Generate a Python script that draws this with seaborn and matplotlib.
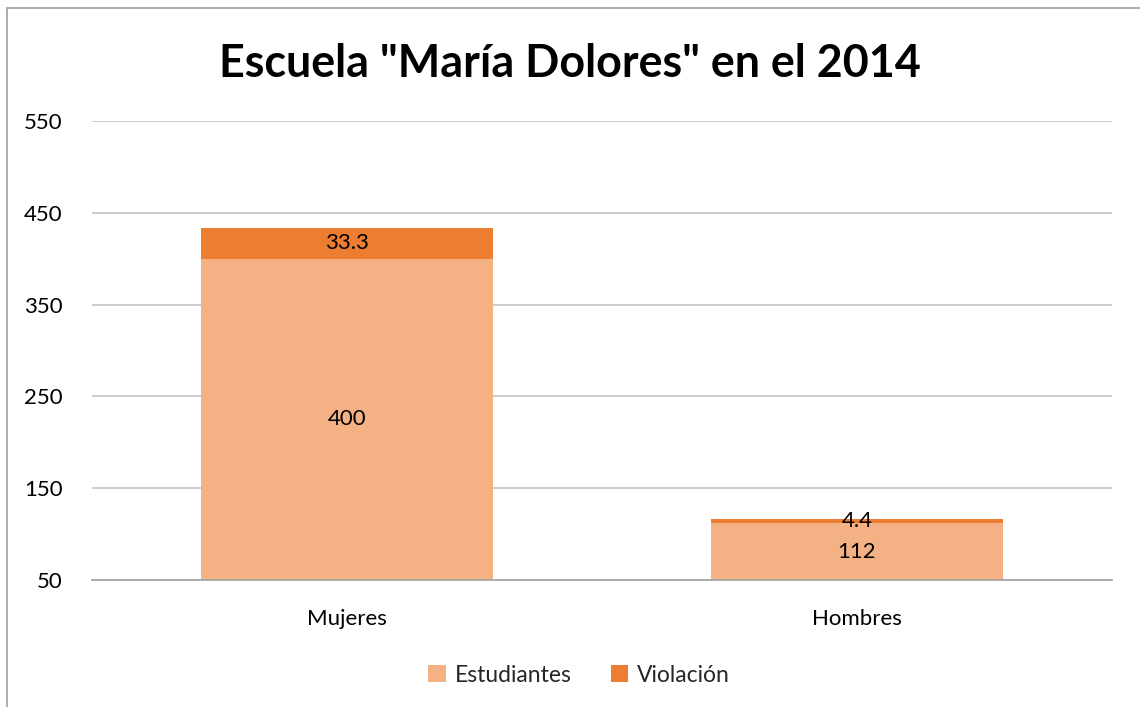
import matplotlib
matplotlib.use("Agg")
import matplotlib.pyplot as plt
import seaborn as sns
import pandas as pd
from matplotlib.patches import Rectangle, Patch

categories = ["Mujeres", "Hombres"]
estudiantes = [400, 112]
violacion = [33.3, 4.4]
yticks = [50, 150, 250, 350, 450, 550]
title = 'Escuela "María Dolores" en el 2014'

sns.set_theme(style="white")
plt.rcParams['font.family'] = ['Lato', 'DejaVu Sans']

c_light = "#F4B183"
c_dark = "#ED7D31"
fs = 16

df = pd.DataFrame({"cat": categories, "est": estudiantes, "vio": violacion})
df["total"] = df["est"] + df["vio"]

fig = plt.figure(figsize=(11.4, 7.07), dpi=100)
ax = fig.add_axes([92/1140, 1-580/707, (1112-92)/1140, (580-121)/707])

sns.barplot(data=df, x="cat", y="total", color=c_dark, saturation=1, width=0.573, ax=ax,
            zorder=3, linewidth=0, edgecolor="none")
sns.barplot(data=df, x="cat", y="est", color=c_light, saturation=1, width=0.573, ax=ax,
            zorder=3, linewidth=0, edgecolor="none")

ymin, ymax = 50, 550
ax.set_ylim(ymin, ymax)
ax.set_yticks(yticks)
ax.set_yticklabels([str(t) for t in yticks], fontsize=fs, color="#000000")
ax.set_xlim(-0.5, 1.5)
ax.tick_params(axis="x", labelsize=fs, colors="#000000", length=0, pad=21)
ax.tick_params(axis="y", length=0, pad=21)
ax.set_xlabel("")
ax.set_ylabel("")
for lab in ax.get_xticklabels():
    lab.set_color("#000000")

ax.grid(axis="y", color="#BFBFBF", linewidth=1.1, zorder=0)
ax.grid(axis="x", visible=False)
for s in ["top", "right", "left"]:
    ax.spines[s].set_visible(False)
ax.spines["bottom"].set_color("#A6A6A6")
ax.spines["bottom"].set_linewidth(1.3)
ax.spines["bottom"].set_zorder(4)

for i, (e, v) in enumerate(zip(estudiantes, violacion)):
    lo = max(0, ymin)
    ax.text(i, (lo + e) / 2, f"{e:g}", ha="center", va="center", fontsize=fs, color="#000000", zorder=5)
    ax.text(i, e + v / 2, f"{v:g}", ha="center", va="center", fontsize=fs, color="#000000", zorder=5)

fig.text(0.5, 1-64/707, title, ha="center", va="center", fontsize=32.3, fontweight="bold", color="#000000")

handles = [Patch(facecolor=c_light, edgecolor="none", label="Estudiantes"),
           Patch(facecolor=c_dark, edgecolor="none", label="Violación")]
fig.legend(handles=handles, loc="center", bbox_to_anchor=(0.508, 1-675/707), ncol=2, frameon=False,
           fontsize=16.5, handlelength=0.75, handleheight=0.75, handletextpad=0.4, columnspacing=1.7)

fig.patches.append(Rectangle((7/1140, -0.1), 1.2, 1-8/707+0.1, transform=fig.transFigure,
                             fill=False, edgecolor="#A6A6A6", linewidth=1.3, zorder=10))

fig.savefig("out.png", dpi=100, facecolor="white")
